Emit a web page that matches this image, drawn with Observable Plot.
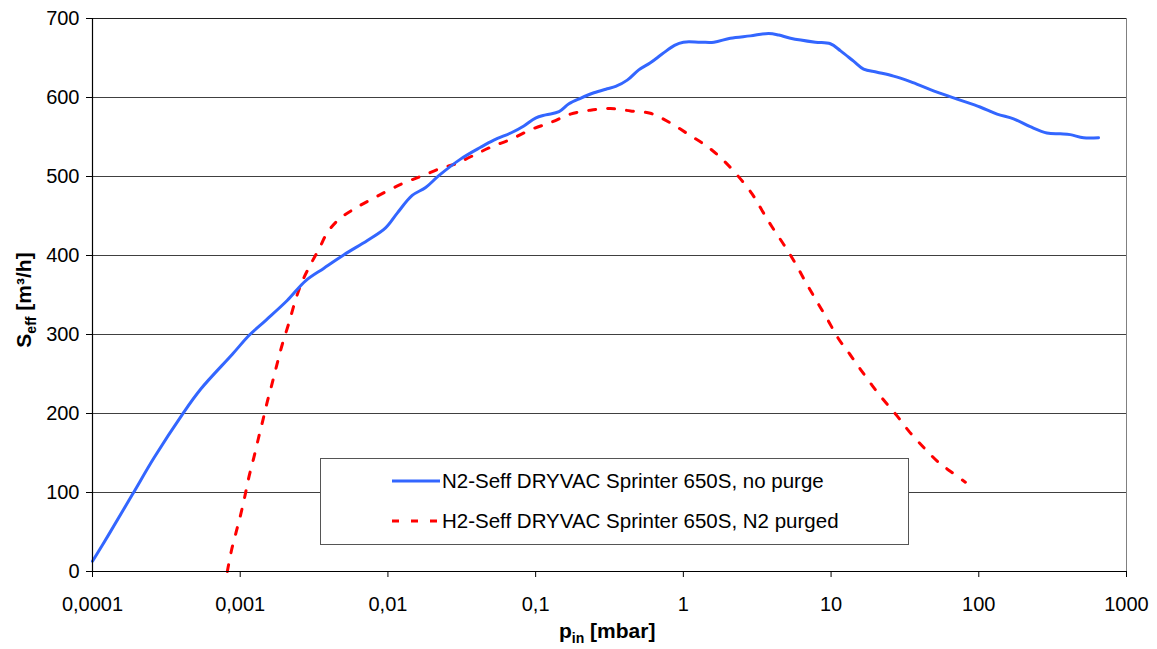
<!DOCTYPE html>
<html>
<head>
<meta charset="utf-8">
<script src="https://cdn.jsdelivr.net/npm/d3@7"></script>
<script src="https://cdn.jsdelivr.net/npm/@observablehq/plot@0.6"></script>
<style>
  html, body { margin: 0; padding: 0; background: #fff; }
  #chart { position: relative; width: 1157px; height: 649px; font-family: "Liberation Sans", Arial, sans-serif; color: #000; }
  #chart svg { display: block; }
  .axis-title { position: absolute; font-weight: bold; font-size: 21px; white-space: nowrap; }
  .axis-title sub { font-size: 14px; vertical-align: -5px; line-height: 0; }
  #xtitle { left: 559px; top: 619px; }
  #ytitle { left: 24px; top: 300px; transform: translate(-50%, -50%) rotate(-90deg); }
  #legend { position: absolute; left: 320px; top: 458px; width: 589px; height: 87px; border: 1px solid #555; background: #fff; box-sizing: border-box; font-size: 20.5px; }
  .item { position: absolute; left: 71px; display: flex; align-items: center; white-space: nowrap; }
  .item svg { margin-right: 2px; }
</style>
</head>
<body>
<div id="chart">
  <div class="axis-title" id="xtitle">p<sub>in</sub> [mbar]</div>
  <div class="axis-title" id="ytitle">S<sub>eff</sub> [m³/h]</div>
</div>
<script>
// Inlet pressure (mbar) and effective pumping speed (m³/h), N2 without purge
const n2Pressure = [0.0001, 0.000129, 0.000187, 0.000261, 0.000406, 0.000541, 0.000885, 0.00115, 0.00149, 0.00208,
  0.00277, 0.00369, 0.00504, 0.00726, 0.00964, 0.0116, 0.0146, 0.0180, 0.0221, 0.0310,
  0.0424, 0.0521, 0.0695, 0.0832, 0.0998, 0.117, 0.144, 0.168, 0.201, 0.248,
  0.305, 0.348, 0.417, 0.499, 0.598, 0.718, 0.871, 1.00, 1.31, 1.61,
  2.08, 2.84, 3.78, 4.43, 5.31, 7.83, 9.89, 11.6, 14.2, 16.6,
  20.5, 26.5, 34.4, 47.0, 71.3, 102, 133, 172, 223, 289,
  356, 416, 512, 647];
const n2Speed = [13, 47, 98, 144, 199, 231, 275, 299, 318, 343,
  368, 384, 401, 419, 435, 454, 476, 486, 501, 522,
  537, 546, 556, 564, 574, 578, 582, 592, 599, 606,
  611, 614, 622, 635, 644, 655, 666, 670, 670, 670,
  675, 678, 681, 679, 675, 670, 668, 659, 646, 636,
  632, 627, 620, 610, 598, 588, 579, 573, 563, 555,
  554, 553, 549, 549];

// H2 with N2 purge
const h2Pressure = [0.000818, 0.000871, 0.000942, 0.00101, 0.00108, 0.00115, 0.00124, 0.00133, 0.00143, 0.00153,
  0.00165, 0.00179, 0.00193, 0.00214, 0.00238, 0.00264, 0.00300, 0.00341, 0.00389, 0.00467,
  0.00604, 0.00826, 0.0122, 0.0171, 0.0233, 0.0287, 0.0363, 0.0495, 0.0676, 0.0948,
  0.129, 0.172, 0.235, 0.321, 0.439, 0.598, 0.796, 1.09, 1.45, 1.83,
  2.31, 2.92, 3.41, 3.99, 4.78, 5.73, 6.70, 7.83, 9.40, 11.2,
  13.4, 15.8, 18.9, 22.7, 27.7, 33.5, 42.4, 53.5, 64.1, 81.1];
const h2Speed = [0, 26, 51, 73, 97, 121, 145, 169, 193, 216,
  239, 265, 288, 315, 345, 368, 389, 408, 429, 446,
  460, 474, 490, 501, 511, 516, 525, 537, 547, 560,
  569, 579, 584, 586, 583, 580, 569, 553, 538, 522,
  502, 478, 457, 436, 414, 390, 367, 345, 320, 295,
  275, 256, 236, 217, 198, 178, 157, 138, 127, 113];

const seriesNames = ["N2-Seff DRYVAC Sprinter 650S, no purge", "H2-Seff DRYVAC Sprinter 650S, N2 purged"];
const seriesColors = ["#3366ff", "#ff0000"];

const xTicks = [0.0001, 0.001, 0.01, 0.1, 1, 10, 100, 1000];
const xTickLabels = ["0,0001", "0,001", "0,01", "0,1", "1", "10", "100", "1000"];
const yTicks = [0, 100, 200, 300, 400, 500, 600, 700];

const n2 = n2Pressure.map((p, i) => ({p, s: n2Speed[i]}));
const h2 = h2Pressure.map((p, i) => ({p, s: h2Speed[i]}));

const font = "Liberation Sans, Arial, sans-serif";

const chart = Plot.plot({
  width: 1157,
  height: 649,
  marginLeft: 92,
  marginRight: 31,
  marginTop: 18,
  marginBottom: 78,
  style: {fontFamily: font, fontSize: "20px", color: "#000", background: "#fff"},
  x: {type: "log", domain: [0.0001, 1000]},
  y: {domain: [0, 700]},
  marks: [
    Plot.frame({stroke: "#808080"}),
    Plot.gridY(yTicks.slice(1), {stroke: "#000", strokeOpacity: 0.75}),
    Plot.line(h2, {x: "p", y: "s", stroke: seriesColors[1], strokeWidth: 3, strokeDasharray: "7,12", curve: "catmull-rom"}),
    Plot.line(n2, {x: "p", y: "s", stroke: seriesColors[0], strokeWidth: 3, curve: "catmull-rom"}),
    Plot.ruleY([0], {stroke: "#000", strokeWidth: 1.2}),
    Plot.ruleX([0.0001], {stroke: "#000", strokeWidth: 1.2}),
    Plot.axisX({ticks: xTicks, tickFormat: d => xTickLabels[xTicks.indexOf(d)], tickSize: 6, tickPadding: 19, label: null, fontSize: 20}),
    Plot.axisY({ticks: yTicks, tickFormat: d => String(d), tickSize: 6, tickPadding: 7, label: null, fontSize: 20})
  ]
});

const root = document.getElementById("chart");
root.prepend(chart);

// Legend box inside the plot area
const legend = document.createElement("div");
legend.id = "legend";
seriesNames.forEach((name, i) => {
  const item = document.createElement("div");
  item.className = "item";
  item.style.top = (i === 0 ? 10 : 50) + "px";
  const sw = d3.create("svg").attr("width", 48).attr("height", 22);
  sw.append("line").attr("x1", 0).attr("x2", 48).attr("y1", 11).attr("y2", 11)
    .attr("stroke", seriesColors[i]).attr("stroke-width", 3)
    .attr("stroke-dasharray", i === 1 ? "7,12" : null);
  item.append(sw.node());
  const label = document.createElement("span");
  label.textContent = name;
  item.append(label);
  legend.append(item);
});
root.append(legend);
</script>
</body>
</html>
